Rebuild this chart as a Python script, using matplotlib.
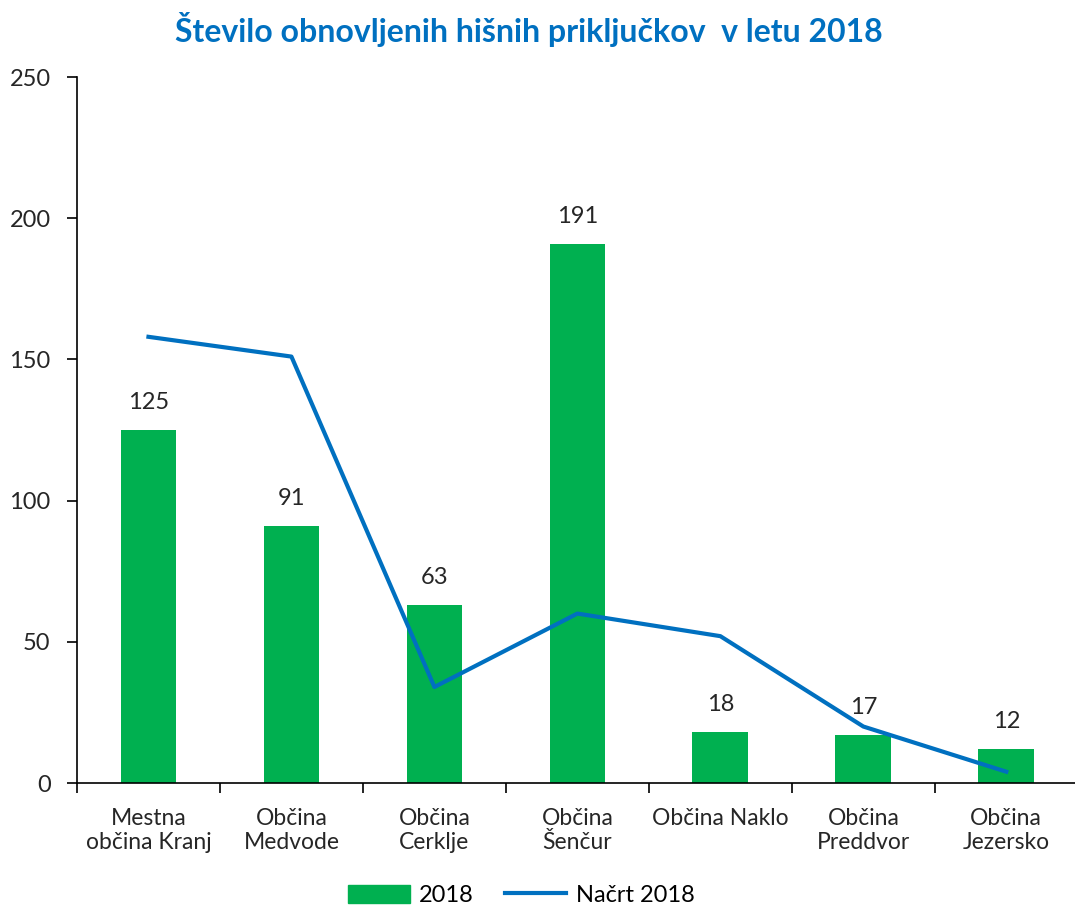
import numpy as np
from matplotlib import pyplot as plt
from matplotlib.patches import Patch
from matplotlib.lines import Line2D

plt.rcParams['font.family'] = ['Lato', 'DejaVu Sans']

obcine = ['Mestna\nobčina Kranj', 'Občina\nMedvode', 'Občina\nCerklje', 'Občina\nŠenčur',
          'Občina Naklo', 'Občina\nPreddvor', 'Občina\nJezersko']
izvedeno = [125, 91, 63, 191, 18, 17, 12]
nacrt = [158, 151, 34, 60, 52, 20, 4]

green = '#00B050'
blue = '#0070C0'

fig = plt.figure(figsize=(10.75, 9.07), dpi=100)
ax = fig.add_axes([0.0716, 0.1367, 0.931, 0.7784])

x = np.arange(len(obcine))
bars = ax.bar(x, izvedeno, width=0.39, color=green, zorder=2)
ax.plot(x, nacrt, color=blue, lw=3, zorder=3)

for xi, v in zip(x, izvedeno):
    ax.text(xi, v + 6, str(v), ha='center', va='bottom', fontsize=17, color='#262626')

ax.set_xlim(-0.5, len(obcine) - 0.5)
ax.set_ylim(0, 250)
ax.set_yticks(range(0, 251, 50))
ax.set_xticks(x)
ax.set_xticklabels(obcine, fontsize=16.5, color='#262626', linespacing=1.15)
ax.set_xticks(np.arange(-0.5, len(obcine) - 0.5, 1), minor=True)
ax.tick_params(axis='x', which='major', length=0, pad=18)
ax.tick_params(axis='x', which='minor', length=7, width=1.2)
ax.tick_params(axis='y', length=7, width=1.2, labelsize=17, labelcolor='#262626', pad=12)

for s in ['top', 'right']:
    ax.spines[s].set_visible(False)
ax.spines['left'].set_linewidth(1.2)
ax.spines['bottom'].set_linewidth(1.2)

fig.text(0.492, 0.967, 'Število obnovljenih hišnih priključkov  v letu 2018', ha='center', va='center',
         fontsize=23, fontweight='bold', color=blue)

handles = [Patch(color=green, label='2018'), Line2D([0], [0], color=blue, lw=3, label='Načrt 2018')]
fig.legend(handles=handles, loc='center', bbox_to_anchor=(0.485, 0.013), ncol=2, frameon=False,
           fontsize=17, handlelength=2.6, handleheight=0.8, handletextpad=0.4, columnspacing=1.3)

fig.savefig('out.png', dpi=100)
